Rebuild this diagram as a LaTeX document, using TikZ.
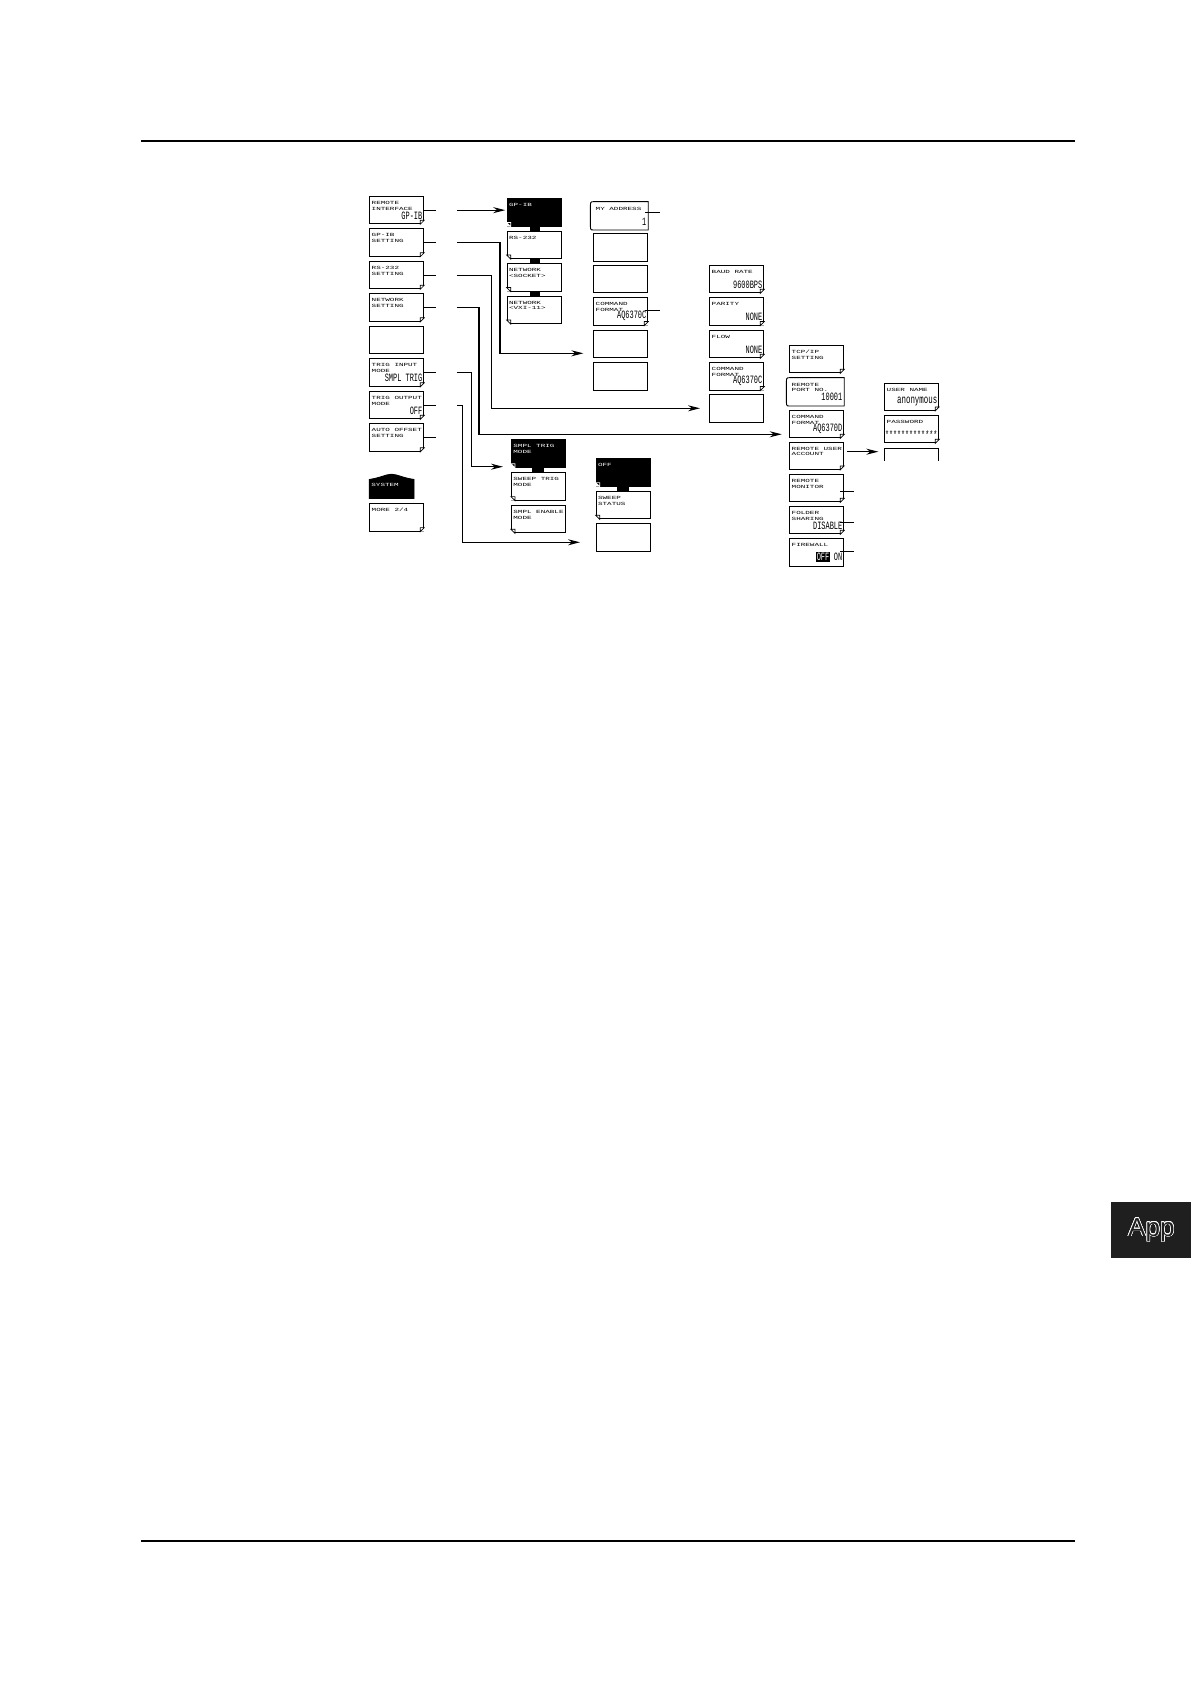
\documentclass[tikz,border=0pt]{standalone}
\usepackage{fontspec}
\setsansfont{Liberation Sans}
\setmonofont{Liberation Mono}
\usepackage{graphicx}
\usepackage{contour}
\usetikzlibrary{calc,arrows.meta}
\tikzset{%
  key/.style={draw,line width=0.45pt,minimum width=27pt,minimum height=13.7pt,inner sep=0,anchor=north west},
  keyT/.style={},
  selkey/.style={key,fill=black},
  selkeyT/.style={text=white},
  openkey/.style={key,draw=none},
  openkeyT/.style={},
  keytxt/.style={font=\fontsize{3.8}{4.6}\selectfont\ttfamily,inner sep=0,anchor=north west},
  keyval/.style={font=\fontsize{5.6}{6}\selectfont\ttfamily,inner sep=0,anchor=south east},
  wire/.style={line width=0.55pt},
  arr/.style={wire,-{Stealth[length=6pt,width=3pt]}},
  tab/.style={fill=black}
}
\newcommand\val[1]{\scalebox{0.62}[1]{#1}}
\newcommand\lbl[1]{\scalebox{1}[0.62]{\begin{tabular}{@{}l@{}}#1\end{tabular}}}
% soft key: style, name, left, top, label, value
\NewDocumentCommand\skey{O{key}mmmmm}{%
  \node[#1] (#2) at (#3,#4) {};
  \if\relax\detokenize{#5}\relax\else
    \node[keytxt,#1T] (#2t) at ($(#2.north west)+(2,4)$) {\lbl{#5}};
  \fi
  \if\relax\detokenize{#6}\relax\else
    \node[keyval,#1T] (#2v) at ($(#2.south east)+(-1.5,-4.5)$) {\val{#6}};
  \fi
}
\NewDocumentCommand\dogR{mO{black}}{%
  \fill[white] (#1.south east) -- ($(#1.south east)+(0,-4)$) -- ($(#1.south east)+(-4,0)$) -- cycle;
  \draw[#2,line width=0.35pt] ($(#1.south east)+(0,-4)$) -- ($(#1.south east)+(-4,-4)$) -- ($(#1.south east)+(-4,0)$) -- cycle;
}
\NewDocumentCommand\dogL{mO{black}}{%
  \fill[white] (#1.south west) -- ($(#1.south west)+(0,-4)$) -- ($(#1.south west)+(4,0)$) -- cycle;
  \draw[#2,line width=0.35pt] ($(#1.south west)+(0,-4)$) -- ($(#1.south west)+(4,-4)$) -- ($(#1.south west)+(4,0)$) -- cycle;
}
\NewDocumentCommand\openleft{m}{%
  \draw[line width=0.45pt] (#1.north west) -- (#1.north east) -- (#1.south east) -- (#1.south west)
    .. controls ($(#1.south west)+(-3,0)$) .. ($(#1.south west)+(-3,-9)$)
    -- ($(#1.north west)+(-3,9)$)
    .. controls ($(#1.north west)+(-3,0)$) .. (#1.north west);
}

\begin{document}
\begin{tikzpicture}[x=0.5pt,y=-0.5pt]
  \useasboundingbox (0,0) rectangle (1191,1684);
  \draw[line width=0.7pt] (141,141) -- (1075,141);
  \draw[line width=0.7pt] (141,1541) -- (1075,1541);
  %
  %% first level
  \skey{rif}{369.3}{196}{REMOTE\\INTERFACE}{GP-IB}
  \skey{gpset}{369.3}{228.5}{GP-IB\\SETTING}{}
  \skey{rsset}{369.3}{261}{RS-232\\SETTING}{}
  \skey{netset}{369.3}{293.5}{NETWORK\\SETTING}{}
  \skey{blk}{369.3}{326}{}{}
  \skey{trin}{369.3}{358.5}{TRIG INPUT\\MODE}{SMPL TRIG}
  \skey{trout}{369.3}{391}{TRIG OUTPUT\\MODE}{OFF}
  \skey{aoff}{369.3}{423.5}{AUTO OFFSET\\SETTING}{}
  \skey{more}{369.3}{503.3}{MORE 2/4}{}
  \foreach \k in {rif,gpset,rsset,netset,trin,trout,aoff,more} {\dogR{\k}}
  \filldraw[line width=0.45pt] (369.3,498.3) -- (369.3,479.5) .. controls (380,478) and (386,474.3) .. (391.5,474.3)
    .. controls (397,474.3) and (403,478) .. (414,479.5) -- (414,498.3) -- cycle;
  \node[keytxt,text=white] (syst) at (371,482.5) {\lbl{SYSTEM}};
  %
  %% interface select
  \skey[selkey]{gpib}{506.7}{198.3}{GP-IB}{}
  \skey{rs}{506.7}{230.8}{RS-232}{}
  \skey{sock}{506.7}{263.3}{NETWORK\\<SOCKET>}{}
  \skey{vxi}{506.7}{295.8}{NETWORK\\<VXI-11>}{}
  \fill[tab] ($(gpib.south)+(-4,0)$) rectangle ($(rs.north)+(6,0)$);
  \fill[tab] ($(rs.south)+(-4,0)$) rectangle ($(sock.north)+(6,0)$);
  \fill[tab] ($(sock.south)+(-4,0)$) rectangle ($(vxi.north)+(6,0)$);
  \dogL{gpib}[white]\dogL{rs}\dogL{sock}\dogL{vxi}
  %
  %% trigger select
  \skey[selkey]{smpl}{511}{439.5}{SMPL TRIG\\MODE}{}
  \skey{swp}{511}{472.3}{SWEEP TRIG\\MODE}{}
  \skey{enab}{511}{505}{SMPL ENABLE\\MODE}{}
  \fill[tab] ($(smpl.south)+(-6,0)$) rectangle ($(swp.north)+(6,0)$);
  \dogL{smpl}[white]\dogL{swp}\dogL{enab}
  %
  %% GP-IB setting
  \node[openkey] (myad) at (593.3,201.7) {};
  \openleft{myad}
  \node[keytxt] (myadt) at ($(myad.north west)+(2,4)$) {\lbl{MY ADDRESS}};
  \node[keyval] (myadv) at ($(myad.south east)+(-1.5,-4.5)$) {\val{1}};
  \skey{gb2}{593.3}{233.3}{}{}
  \skey{gb3}{593.3}{265}{}{}
  \skey{gbcmd}{593.3}{297.3}{COMMAND\\FORMAT}{AQ6370C}
  \skey{gb5}{593.3}{330}{}{}
  \skey{gb6}{593.3}{362.3}{}{}
  \dogR{gbcmd}
  %
  %% trigger output
  \skey[selkey]{toff}{595.7}{458.3}{OFF}{}
  \skey{tsts}{595.7}{491}{SWEEP\\STATUS}{}
  \skey{tblk}{595.7}{523.3}{}{}
  \fill[tab] ($(toff.south)+(-6,0)$) rectangle ($(tsts.north)+(6,0)$);
  \dogL{toff}[white]\dogL{tsts}
  %
  %% RS-232 setting
  \skey{baud}{709.3}{265}{BAUD RATE}{9600BPS}
  \skey{par}{709.3}{297.3}{PARITY}{NONE}
  \skey{flow}{709.3}{330}{FLOW}{NONE}
  \skey{rscmd}{709.3}{362.3}{COMMAND\\FORMAT}{AQ6370C}
  \skey{rsblk}{709.3}{394.3}{}{}
  \foreach \k in {baud,par,flow,rscmd} {\dogR{\k}}
  %
  %% network setting
  \skey{tcp}{789.3}{345}{TCP/IP\\SETTING}{}
  \node[openkey] (port) at (789.3,377.7) {};
  \openleft{port}
  \node[keytxt] (portt) at ($(port.north west)+(2,4)$) {\lbl{REMOTE\\PORT NO.}};
  \node[keyval] (portv) at ($(port.south east)+(-1.5,-4.5)$) {\val{10001}};
  \skey{ncmd}{789.3}{410}{COMMAND\\FORMAT}{AQ6370D}
  \skey{rua}{789.3}{441.7}{REMOTE USER\\ACCOUNT}{}
  \skey{rmon}{789.3}{474}{REMOTE\\MONITOR}{}
  \skey{fold}{789.3}{506}{FOLDER\\SHARING}{DISABLE}
  \skey{fw}{789.3}{538.3}{FIREWALL}{{\setlength\fboxsep{0.4pt}\colorbox{black}{\textcolor{white}{OFF}}} ON}
  \foreach \k in {tcp,ncmd,rua,rmon,fold} {\dogR{\k}}
  %
  %% user account
  \skey{uname}{884.3}{382.7}{USER NAME}{\fontsize{6}{6}\selectfont anonymous}
  \skey{pass}{884.3}{415}{PASSWORD}{\fontsize{5.4}{6}\selectfont *************}
  \dogR{uname}\dogR{pass}
  \draw[line width=0.45pt] (884.3,460.7) -- (884.3,448.3) -- (938.3,448.3) -- (938.3,460.7);
  %
  %% stubs
  \foreach \k in {rif,gpset,rsset,netset,trin,trout,aoff} {\draw[wire] (\k.east) -- ++(12,0);}
  \draw[wire] (myad.east) ++(-3,-3) -- ++(15,0);
  \draw[wire] (gbcmd.east) ++(-3,-1) -- ++(15,0);
  \draw[wire] (rmon.east) ++(-4,3.3) -- ++(14,0);
  \draw[wire] (fold.east) ++(-4,2) -- ++(14,0);
  \draw[wire] (fw.east) ++(-4,-1) -- ++(14,0);
  %
  %% connectors
  \coordinate (s1) at ($(rif.east)+(33,0)$);
  \coordinate (s2) at ($(gpset.east)+(33,0)$);
  \coordinate (s3) at ($(rsset.east)+(33,0)$);
  \coordinate (s4) at ($(netset.east)+(33,0)$);
  \coordinate (s5) at ($(trin.east)+(33,0)$);
  \coordinate (s6) at ($(trout.east)+(33,0)$);
  \coordinate (t2) at (583.3,353.3);
  \coordinate (t3) at (700,408.3);
  \coordinate (t4) at (781.7,434.3);
  \coordinate (t5) at (503,466.7);
  \coordinate (t6) at (580,542.3);
  \coordinate (t7) at (878.3,451.7);
  \draw[arr] (s1) -- ($(s1 -| gpib.west)+(-1.5,0)$);
  \draw[arr] (s2) -| (500,353.3) -- (t2);
  \draw[arr] (s3) -| (491.7,408.3) -- (t3);
  \draw[arr] (s4) -| (479,434.3) -- (t4);
  \draw[arr] (s5) -| (471.7,466.7) -- (t5);
  \draw[arr] (s6) -| (462.7,542.3) -- (t6);
  \draw[arr] ($(rua.east |- t7)+(3,0)$) -- (t7);
  %
  %% thumb tab
  \node[fill=black!88,minimum width=40pt,minimum height=28pt,inner sep=0,anchor=north west] (appbox) at (1111,1202) {};
  \contourlength{0.3pt}
  \node[font=\sffamily\fontsize{13}{13}\selectfont,text=black!88] (app) at (appbox.center) {\contour{white}{App}};
\end{tikzpicture}
\end{document}
